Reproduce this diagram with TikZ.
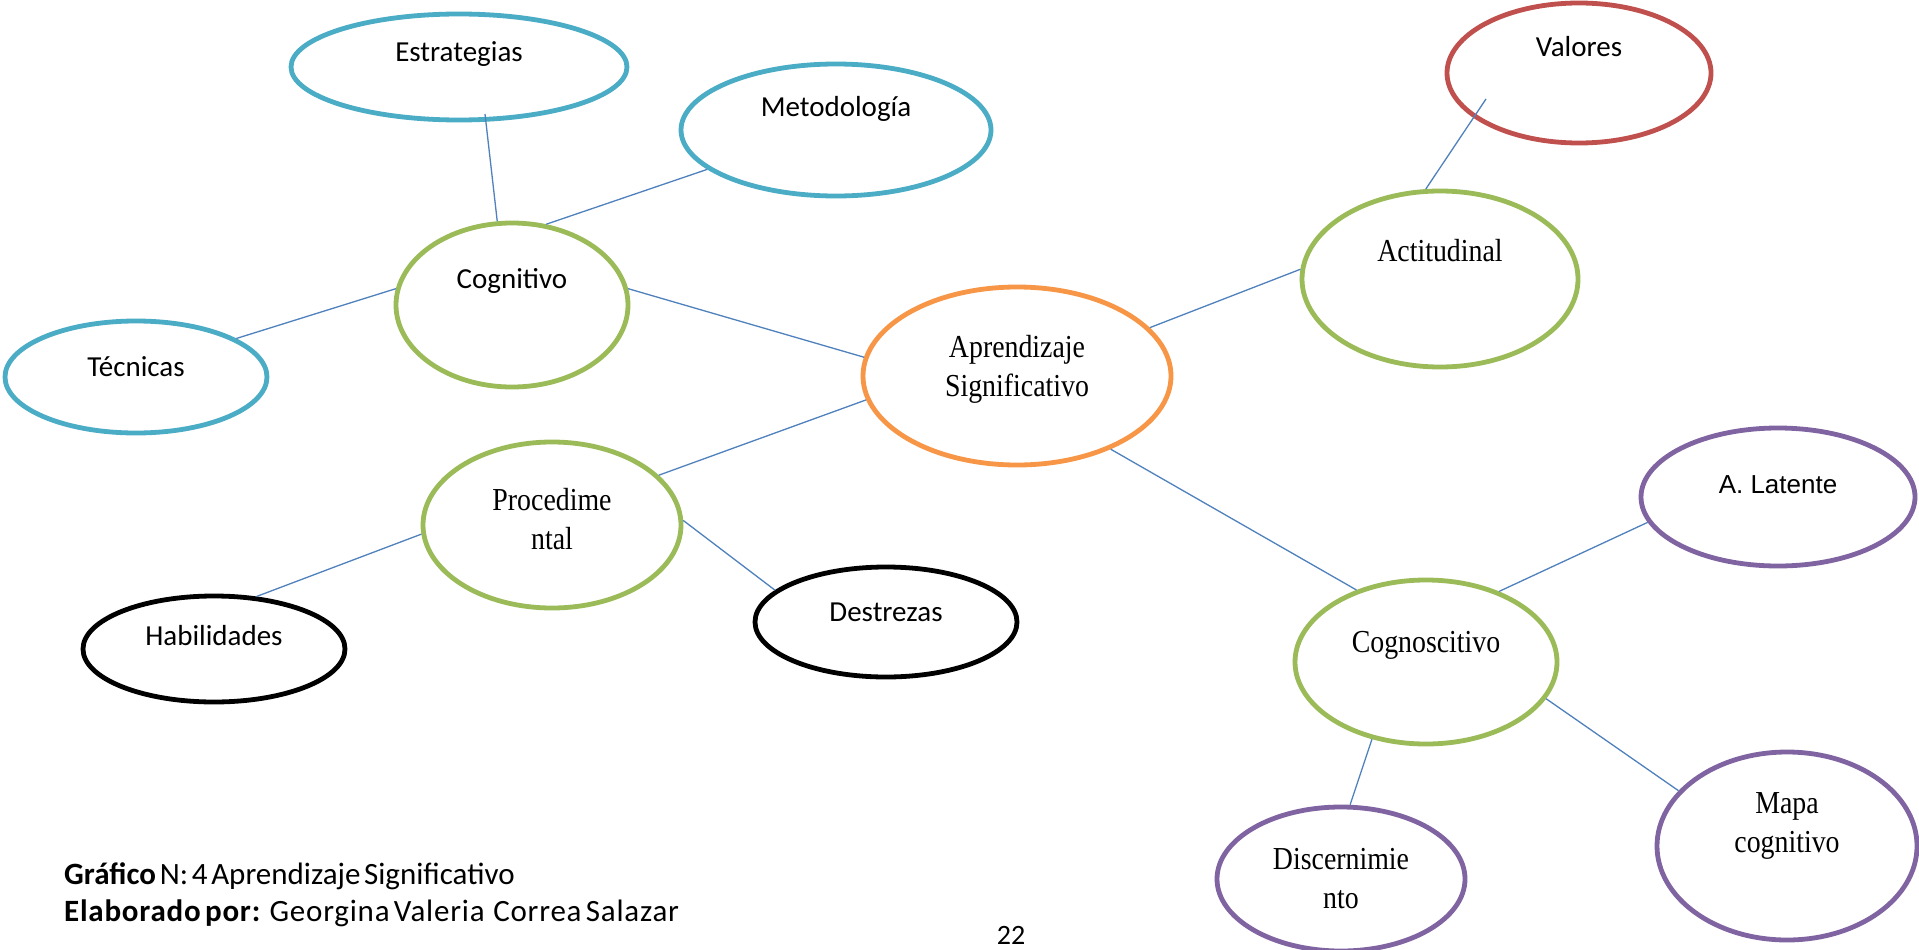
\documentclass[tikz,border=0pt]{standalone}
\usepackage{fontspec}
\usetikzlibrary{shapes.geometric,calc}
\newfontfamily\calfont{Carlito}
\newfontfamily\calspfont[LetterSpace=2.5]{Carlito}
\newfontfamily\tnrfont[FakeStretch=0.87]{Liberation Serif}
\newfontfamily\arifont{Liberation Sans}
\definecolor{cteal}{HTML}{4BACC6}
\definecolor{cgreen}{HTML}{9BBB59}
\definecolor{corange}{HTML}{F79646}
\definecolor{cred}{HTML}{C0504D}
\definecolor{cpurple}{HTML}{8064A2}
\definecolor{cline}{HTML}{4F81BD}
\tikzset{
  bub/.style={ellipse, draw, line width=4.8pt, inner sep=0pt, fill=none},
  calf/.style={font=\calfont\fontsize{29}{34}\selectfont, text=black},
  tnrf/.style={font=\tnrfont\fontsize{32}{39}\selectfont, text=black, align=center},
  arif/.style={font=\arifont\fontsize{26}{30}\selectfont, text=black},
  conn/.style={draw=cline, line width=1.3pt},
  foot/.style={font=\fontsize{31}{37}\selectfont, anchor=west, inner sep=0pt}
}
\begin{document}
\begin{tikzpicture}[x=1pt,y=-1pt]
\useasboundingbox[fill=white] (0,0) rectangle (1919,950);
% nodes
\node[bub, draw=cteal, minimum width=336pt, minimum height=106pt, label={[calf, yshift=13pt]center:Estrategias}] (estr) at (459,67) {};
\node[bub, draw=cteal, minimum width=310pt, minimum height=132pt, label={[calf, yshift=21pt]center:Metodología}] (meto) at (836,130) {};
\node[bub, draw=cgreen, minimum width=232pt, minimum height=164pt, label={[calf, yshift=24pt]center:Cognitivo}] (cog) at (512,305) {};
\node[bub, draw=cteal, minimum width=262pt, minimum height=112pt, label={[calf, yshift=10pt]center:Técnicas}] (tec) at (136,377) {};
\node[bub, draw=corange, minimum width=308pt, minimum height=178pt, label={[tnrf, yshift=7pt]center:Aprendizaje\\Significativo}] (apr) at (1017,376) {};
\node[bub, draw=cred, minimum width=264pt, minimum height=140pt, label={[calf, yshift=26pt]center:Valores}] (val) at (1579,73) {};
\node[bub, draw=cgreen, minimum width=276pt, minimum height=176pt, label={[tnrf, yshift=28pt]center:Actitudinal}] (act) at (1440,279) {};
\node[bub, draw=cgreen, minimum width=258pt, minimum height=166pt, label={[tnrf, yshift=6pt]center:Procedime\\ntal}] (proc) at (552,525) {};
\node[bub, draw=black, minimum width=262pt, minimum height=106pt, label={[calf, yshift=13pt]center:Habilidades}] (hab) at (214,649) {};
\node[bub, draw=black, minimum width=262pt, minimum height=110pt, label={[calf, yshift=10pt]center:Destrezas}] (des) at (886,622) {};
\node[bub, draw=cpurple, minimum width=274pt, minimum height=138pt, label={[arif, yshift=12pt]center:A. Latente}] (lat) at (1778,497) {};
\node[bub, draw=cgreen, minimum width=262pt, minimum height=164pt, label={[tnrf, yshift=17pt]center:Cognoscitivo}] (cogn) at (1426,662) {};
\node[bub, draw=cpurple, minimum width=260pt, minimum height=188pt, label={[tnrf, yshift=20pt]center:Mapa\\cognitivo}] (mapa) at (1787,846) {};
\node[bub, draw=cpurple, minimum width=248pt, minimum height=144pt, label={[tnrf, yshift=0pt]center:Discernimie\\nto}] (disc) at (1341,879) {};
% connectors
\draw[conn] ($(estr.center)+(26,47)$) -- (cog.100);
\draw[conn] (meto.197) -- (cog.67);
\draw[conn] (cog.172) -- (tec.21);
\draw[conn] (cog.8) -- (apr.173);
\draw[conn] (apr.189) -- (proc.25);
\draw[conn] (proc.184) -- (hab.51);
\draw[conn] (proc.2) -- (des.164);
\draw[conn] (apr.20) -- (act.176);
\draw[conn] (act.99) -- ($(val.center)+(-93,26)$);
\draw[conn] (apr.-38) -- (cogn.134);
\draw[conn] (cogn.44) -- (lat.191);
\draw[conn] (cogn.-17) -- (mapa.153);
\draw[conn] (cogn.-125) -- (disc.83);
% footer
\node[foot] (f1) at (64,876) {\calfont\spaceskip=0.12em\relax\textbf{Gráfico} N: 4 Aprendizaje Significativo};
\node[foot] (f2) at (64,913) {\calspfont\spaceskip=0.14em\relax\textbf{Elaborado por:}\ \ Georgina Valeria\ \ Correa Salazar};
\node[font=\calfont\fontsize{28}{33}\selectfont, inner sep=0pt] (pg) at (1011,935) {22};
\end{tikzpicture}
\end{document}
